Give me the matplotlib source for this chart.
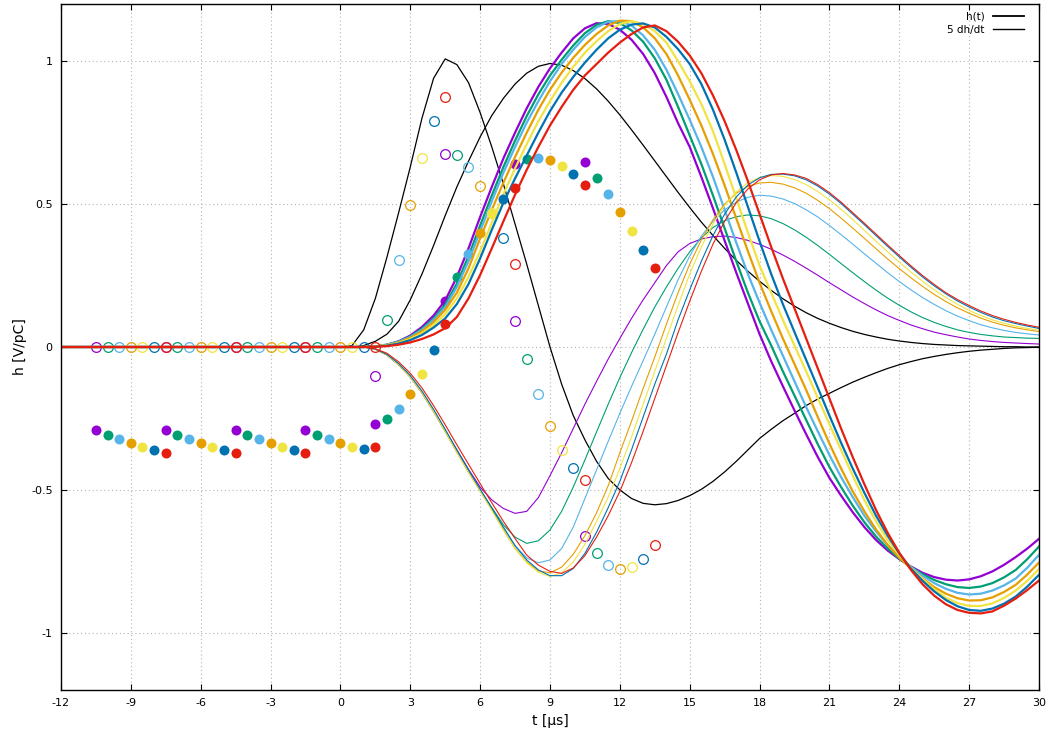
import matplotlib
matplotlib.use("Agg")
import matplotlib.pyplot as plt

# time axis [us] shared by every curve
t = [-12, 0, 0.5, 1, 1.5, 2, 2.5, 3, 3.5, 4, 4.5, 5, 5.5, 6, 6.5, 7, 7.5, 8, 8.5, 9, 9.5,
     10, 10.5, 11, 11.5, 12, 12.5, 13, 13.5, 14, 14.5, 15, 15.5, 16, 16.5, 17, 17.5, 18, 18.5,
     19, 19.5, 20, 20.5, 21, 21.5, 22, 22.5, 23, 23.5, 24, 24.5, 25, 25.5, 26, 26.5, 27, 27.5,
     28, 28.5, 29, 29.5, 30]

# reference response (black)
h_ref = [0, 0, 0, 0.005, 0.02, 0.045, 0.09, 0.165, 0.255, 0.355, 0.46, 0.56, 0.65, 0.735, 0.81,
         0.87, 0.92, 0.958, 0.982, 0.992, 0.986, 0.967, 0.939, 0.903, 0.86, 0.812, 0.76, 0.706,
         0.651, 0.596, 0.541, 0.488, 0.437, 0.39, 0.345, 0.303, 0.265, 0.23, 0.198, 0.169, 0.143,
         0.12, 0.1, 0.083, 0.068, 0.055, 0.044, 0.035, 0.027, 0.021, 0.016, 0.012, 0.009, 0.007,
         0.005, 0.004, 0.003, 0.002, 0.001, 0.001, 0, 0]
dh_ref = [0, 0, 0.005, 0.06, 0.17, 0.315, 0.47, 0.63, 0.8, 0.94, 1.008, 0.988, 0.925, 0.82, 0.7,
          0.57, 0.43, 0.29, 0.145, 0.0, -0.13, -0.24, -0.325, -0.4, -0.46, -0.5, -0.53, -0.547,
          -0.552, -0.548, -0.537, -0.52, -0.498, -0.47, -0.437, -0.4, -0.36, -0.32, -0.288, -0.258,
          -0.232, -0.205, -0.182, -0.162, -0.142, -0.123, -0.106, -0.09, -0.075, -0.062, -0.051,
          -0.041, -0.033, -0.026, -0.02, -0.015, -0.011, -0.008, -0.005, -0.003, -0.002, -0.001]

# h(t) of the seven variants (thick lines)
h_purple = [0, 0, 0, 0, 0.002, 0.008, 0.02, 0.04, 0.07, 0.11, 0.163, 0.245, 0.345, 0.455, 0.56,
            0.66, 0.75, 0.835, 0.91, 0.975, 1.03, 1.08, 1.115, 1.133, 1.13, 1.11, 1.075, 1.025,
            0.958, 0.875, 0.783, 0.7, 0.595, 0.485, 0.372, 0.26, 0.152, 0.045, -0.05, -0.137,
            -0.222, -0.305, -0.385, -0.458, -0.52, -0.578, -0.63, -0.675, -0.712, -0.742, -0.768,
            -0.79, -0.805, -0.814, -0.817, -0.813, -0.802, -0.785, -0.762, -0.735, -0.705, -0.671]
h_green = [0, 0, 0, 0, 0.002, 0.008, 0.019, 0.037, 0.064, 0.1, 0.148, 0.222, 0.318, 0.425, 0.53,
           0.63, 0.722, 0.808, 0.884, 0.95, 1.005, 1.055, 1.098, 1.127, 1.14, 1.133, 1.108, 1.068,
           1.01, 0.935, 0.84, 0.74, 0.64, 0.53, 0.415, 0.3, 0.19, 0.09, 0.005, -0.085, -0.17,
           -0.255, -0.34, -0.42, -0.49, -0.555, -0.613, -0.663, -0.705, -0.74, -0.77, -0.795,
           -0.815, -0.83, -0.84, -0.843, -0.838, -0.826, -0.806, -0.78, -0.742, -0.698]
h_lblue = [0, 0, 0, 0, 0.002, 0.008, 0.018, 0.035, 0.06, 0.095, 0.14, 0.21, 0.3, 0.405, 0.51,
           0.61, 0.7, 0.785, 0.86, 0.93, 0.99, 1.04, 1.085, 1.118, 1.138, 1.14, 1.125, 1.09, 1.04,
           0.97, 0.885, 0.795, 0.7, 0.595, 0.48, 0.365, 0.255, 0.155, 0.06, -0.03, -0.12, -0.21,
           -0.295, -0.378, -0.455, -0.525, -0.59, -0.645, -0.693, -0.735, -0.77, -0.8, -0.826,
           -0.846, -0.86, -0.866, -0.863, -0.852, -0.834, -0.81, -0.772, -0.727]
h_orange = [0, 0, 0, 0, 0.002, 0.007, 0.016, 0.032, 0.055, 0.087, 0.13, 0.19, 0.275, 0.38, 0.48,
            0.575, 0.665, 0.75, 0.83, 0.9, 0.96, 1.012, 1.057, 1.095, 1.125, 1.142, 1.14, 1.118,
            1.08, 1.025, 0.95, 0.865, 0.775, 0.675, 0.565, 0.45, 0.335, 0.225, 0.125, 0.03, -0.06,
            -0.15, -0.245, -0.338, -0.425, -0.505, -0.575, -0.638, -0.693, -0.737, -0.775, -0.81,
            -0.84, -0.863, -0.879, -0.887, -0.886, -0.876, -0.857, -0.832, -0.796, -0.754]
h_yellow = [0, 0, 0, 0, 0.002, 0.006, 0.014, 0.028, 0.048, 0.077, 0.115, 0.17, 0.245, 0.335,
            0.435, 0.535, 0.625, 0.71, 0.79, 0.86, 0.925, 0.98, 1.03, 1.07, 1.105, 1.13, 1.14,
            1.13, 1.105, 1.065, 1.0, 0.93, 0.85, 0.755, 0.64, 0.52, 0.4, 0.285, 0.19, 0.095, 0.005,
            -0.085, -0.178, -0.27, -0.36, -0.45, -0.535, -0.61, -0.675, -0.728, -0.772, -0.812,
            -0.848, -0.877, -0.896, -0.906, -0.906, -0.897, -0.878, -0.852, -0.818, -0.777]
h_blue = [0, 0, 0, 0, 0.001, 0.005, 0.012, 0.024, 0.042, 0.068, 0.1, 0.15, 0.22, 0.31, 0.41,
          0.505, 0.59, 0.67, 0.75, 0.825, 0.89, 0.945, 0.995, 1.04, 1.08, 1.11, 1.128, 1.132,
          1.118, 1.085, 1.042, 0.99, 0.92, 0.83, 0.725, 0.61, 0.49, 0.37, 0.255, 0.15, 0.052,
          -0.045, -0.142, -0.24, -0.335, -0.425, -0.51, -0.59, -0.66, -0.722, -0.775, -0.818,
          -0.855, -0.885, -0.907, -0.92, -0.923, -0.915, -0.898, -0.873, -0.838, -0.797]
h_red = [0, 0, 0, 0, 0.001, 0.003, 0.008, 0.016, 0.028, 0.044, 0.066, 0.105, 0.17, 0.252, 0.345,
         0.44, 0.533, 0.62, 0.7, 0.775, 0.84, 0.9, 0.95, 0.99, 1.03, 1.065, 1.095, 1.118, 1.125,
         1.105, 1.068, 1.02, 0.958, 0.88, 0.79, 0.689, 0.58, 0.465, 0.35, 0.24, 0.135, 0.03,
         -0.075, -0.18, -0.285, -0.385, -0.48, -0.57, -0.65, -0.72, -0.78, -0.83, -0.87, -0.9,
         -0.92, -0.93, -0.932, -0.925, -0.905, -0.88, -0.85, -0.817]

# 5 dh/dt of the seven variants (thin lines)
d_purple = [0, 0, 0, 0, -0.008, -0.028, -0.062, -0.105, -0.16, -0.225, -0.292, -0.36, -0.428,
            -0.49, -0.535, -0.565, -0.582, -0.575, -0.527, -0.45, -0.37, -0.285, -0.2, -0.12,
            -0.042, 0.03, 0.1, 0.165, 0.225, 0.285, 0.333, 0.362, 0.378, 0.386, 0.388, 0.383,
            0.373, 0.359, 0.342, 0.322, 0.3, 0.276, 0.251, 0.225, 0.2, 0.175, 0.152, 0.13, 0.11,
            0.093, 0.077, 0.064, 0.052, 0.043, 0.035, 0.028, 0.023, 0.019, 0.016, 0.014, 0.012,
            0.0105]
d_green = [0, 0, 0, 0, -0.008, -0.028, -0.062, -0.105, -0.16, -0.225, -0.295, -0.366, -0.435,
           -0.5, -0.562, -0.622, -0.665, -0.687, -0.678, -0.64, -0.575, -0.49, -0.395, -0.297,
           -0.2, -0.107, -0.02, 0.062, 0.14, 0.21, 0.275, 0.333, 0.382, 0.418, 0.442, 0.456, 0.462,
           0.459, 0.449, 0.432, 0.41, 0.384, 0.355, 0.324, 0.292, 0.26, 0.229, 0.199, 0.171, 0.146,
           0.123, 0.103, 0.086, 0.072, 0.06, 0.051, 0.044, 0.039, 0.035, 0.033, 0.031, 0.03]
d_lblue = [0, 0, 0, 0, -0.008, -0.028, -0.062, -0.105, -0.16, -0.225, -0.295, -0.367, -0.437,
           -0.503, -0.568, -0.635, -0.695, -0.738, -0.755, -0.745, -0.705, -0.63, -0.53, -0.43,
           -0.33, -0.232, -0.138, -0.048, 0.045, 0.14, 0.235, 0.318, 0.388, 0.44, 0.48, 0.507,
           0.524, 0.531, 0.528, 0.518, 0.502, 0.48, 0.455, 0.425, 0.393, 0.36, 0.326, 0.293, 0.26,
           0.229, 0.2, 0.173, 0.149, 0.127, 0.108, 0.092, 0.078, 0.067, 0.058, 0.051, 0.046, 0.042]
d_orange = [0, 0, 0, 0, -0.008, -0.028, -0.062, -0.105, -0.16, -0.225, -0.295, -0.368, -0.438,
            -0.503, -0.57, -0.64, -0.705, -0.752, -0.783, -0.79, -0.77, -0.725, -0.66, -0.58,
            -0.485, -0.37, -0.26, -0.145, -0.035, 0.08, 0.19, 0.29, 0.375, 0.445, 0.5, 0.538, 0.562,
            0.574, 0.576, 0.57, 0.557, 0.538, 0.513, 0.484, 0.451, 0.416, 0.38, 0.344, 0.308,
            0.274, 0.242, 0.212, 0.184, 0.159, 0.137, 0.118, 0.101, 0.087, 0.076, 0.067, 0.06,
            0.054]
d_yellow = [0, 0, 0, 0, -0.008, -0.028, -0.062, -0.105, -0.16, -0.225, -0.295, -0.368, -0.438,
            -0.503, -0.57, -0.64, -0.705, -0.755, -0.788, -0.803, -0.79, -0.752, -0.69, -0.61,
            -0.525, -0.425, -0.315, -0.2, -0.085, 0.03, 0.145, 0.255, 0.35, 0.43, 0.495, 0.543,
            0.575, 0.593, 0.6, 0.597, 0.586, 0.568, 0.544, 0.515, 0.482, 0.446, 0.408, 0.37, 0.333,
            0.297, 0.262, 0.23, 0.2, 0.173, 0.149, 0.128, 0.11, 0.095, 0.083, 0.073, 0.065, 0.059]
d_blue = [0, 0, 0, 0, -0.007, -0.026, -0.058, -0.1, -0.154, -0.218, -0.288, -0.36, -0.43, -0.497,
          -0.563, -0.63, -0.695, -0.745, -0.78, -0.8, -0.8, -0.775, -0.722, -0.648, -0.562, -0.47,
          -0.36, -0.245, -0.13, -0.025, 0.095, 0.2, 0.3, 0.39, 0.465, 0.525, 0.567, 0.592, 0.604,
          0.605, 0.599, 0.585, 0.563, 0.535, 0.502, 0.465, 0.428, 0.39, 0.352, 0.315, 0.279,
          0.245, 0.214, 0.186, 0.161, 0.14, 0.121, 0.105, 0.092, 0.082, 0.073, 0.065]
d_red = [0, 0, 0, 0, -0.006, -0.022, -0.052, -0.092, -0.143, -0.205, -0.272, -0.342, -0.41, -0.478,
         -0.545, -0.61, -0.67, -0.728, -0.763, -0.785, -0.792, -0.773, -0.73, -0.665, -0.59,
         -0.505, -0.405, -0.295, -0.18, -0.065, 0.05, 0.16, 0.265, 0.36, 0.44, 0.505, 0.553,
         0.585, 0.602, 0.607, 0.602, 0.59, 0.568, 0.54, 0.507, 0.47, 0.433, 0.395, 0.357, 0.32,
         0.284, 0.25, 0.219, 0.19, 0.166, 0.145, 0.126, 0.11, 0.097, 0.086, 0.077, 0.069]

# sample points, one phase per colour (3 us period, 0.5 us offset)
ts_purple = [-10.5, -7.5, -4.5, -1.5, 1.5, 4.5, 7.5, 10.5]
ts_green = [-10, -7, -4, -1, 2, 5, 8, 11]
ts_lblue = [-9.5, -6.5, -3.5, -0.5, 2.5, 5.5, 8.5, 11.5]
ts_orange = [-9, -6, -3, 0, 3, 6, 9, 12]
ts_yellow = [-8.5, -5.5, -2.5, 0.5, 3.5, 6.5, 9.5, 12.5]
ts_blue = [-8, -5, -2, 1, 4, 7, 10, 13]
ts_red = [-7.5, -4.5, -1.5, 1.5, 4.5, 7.5, 10.5, 13.5]

full_purple = [-0.29, -0.29, -0.29, -0.29, -0.269, 0.16, 0.639, 0.647]
full_green = [-0.307, -0.307, -0.307, -0.307, -0.252, 0.245, 0.657, 0.593]
full_lblue = [-0.322, -0.322, -0.322, -0.322, -0.218, 0.326, 0.662, 0.534]
full_orange = [-0.337, -0.337, -0.337, -0.337, -0.164, 0.4, 0.654, 0.471]
full_yellow = [-0.35, -0.35, -0.35, -0.35, -0.093, 0.465, 0.634, 0.407]
full_blue = [-0.361, -0.361, -0.361, -0.357, -0.01, 0.517, 0.605, 0.34]
full_red = [-0.372, -0.372, -0.372, -0.35, 0.079, 0.558, 0.566, 0.275]

open_purple = [0, 0, 0, 0, -0.1, 0.675, 0.091, -0.662]
open_green = [0, 0, 0, 0, 0.095, 0.672, -0.041, -0.721]
open_lblue = [0, 0, 0, 0, 0.303, 0.63, -0.166, -0.761]
open_orange = [0, 0, 0, 0, 0.496, 0.563, -0.275, -0.777]
open_yellow = [0, 0, 0, 0, 0.662, 0.47, -0.361, -0.77]
open_blue = [0, 0, 0, 0, 0.789, 0.383, -0.424, -0.741]
open_red = [0, 0, 0, 0, 0.873, 0.29, -0.464, -0.693]

colors = ["#9400d3", "#009e73", "#56b4e9", "#e69f00", "#f0e442", "#0072b2", "#e51e10"]
h_all = [h_purple, h_green, h_lblue, h_orange, h_yellow, h_blue, h_red]
d_all = [d_purple, d_green, d_lblue, d_orange, d_yellow, d_blue, d_red]
ts_all = [ts_purple, ts_green, ts_lblue, ts_orange, ts_yellow, ts_blue, ts_red]
full_all = [full_purple, full_green, full_lblue, full_orange, full_yellow, full_blue, full_red]
open_all = [open_purple, open_green, open_lblue, open_orange, open_yellow, open_blue, open_red]

fig = plt.figure(figsize=(10.53, 7.35), dpi=100)
ax = fig.add_axes([61 / 1053, 45 / 735, 978 / 1053, 686 / 735])

ax.plot(t, h_ref, color="black", lw=0.9, label="h(t)")
ax.plot(t, dh_ref, color="black", lw=0.9, label="5 dh/dt")

for c, h, d, ts, yf, yo in zip(colors, h_all, d_all, ts_all, full_all, open_all):
    ax.plot(t, h, color=c, lw=1.6)
    ax.plot(t, d, color=c, lw=0.8)
    ax.plot(ts, yf, "o", color=c, ms=7.2, mec="none")
    ax.plot(ts, yo, "o", mfc="none", mec=c, mew=0.9, ms=7.0)

ax.set_xlim(-12, 30)
ax.set_ylim(-1.2, 1.2)
ax.set_xticks(range(-12, 31, 3))
ax.set_yticks([-1, -0.5, 0, 0.5, 1])
ax.set_yticklabels(["-1", "-0.5", "0", "0.5", "1"])
ax.set_xticklabels([str(v) for v in range(-12, 31, 3)])
ax.tick_params(direction="in", top=True, right=True, length=4, width=0.8, labelsize=8, pad=6)
ax.grid(True, color="#b4b4b4", lw=0.8, ls=(0, (1, 2.5)))
for s in ax.spines.values():
    s.set_linewidth(1.0)

ax.set_xlabel("t [µs]", fontsize=10, labelpad=4)
ax.set_ylabel("h [V/pC]", fontsize=10, labelpad=3)

leg = ax.legend(loc="upper right", frameon=False, markerfirst=False, fontsize=7.5,
                handlelength=3.0, handletextpad=0.8, labelspacing=0.35,
                borderaxespad=0.1, bbox_to_anchor=(0.99, 0.997))
leg.get_lines()[0].set_linewidth(1.3)
leg.get_lines()[1].set_linewidth(1.0)

fig.savefig("out.png", dpi=100)
